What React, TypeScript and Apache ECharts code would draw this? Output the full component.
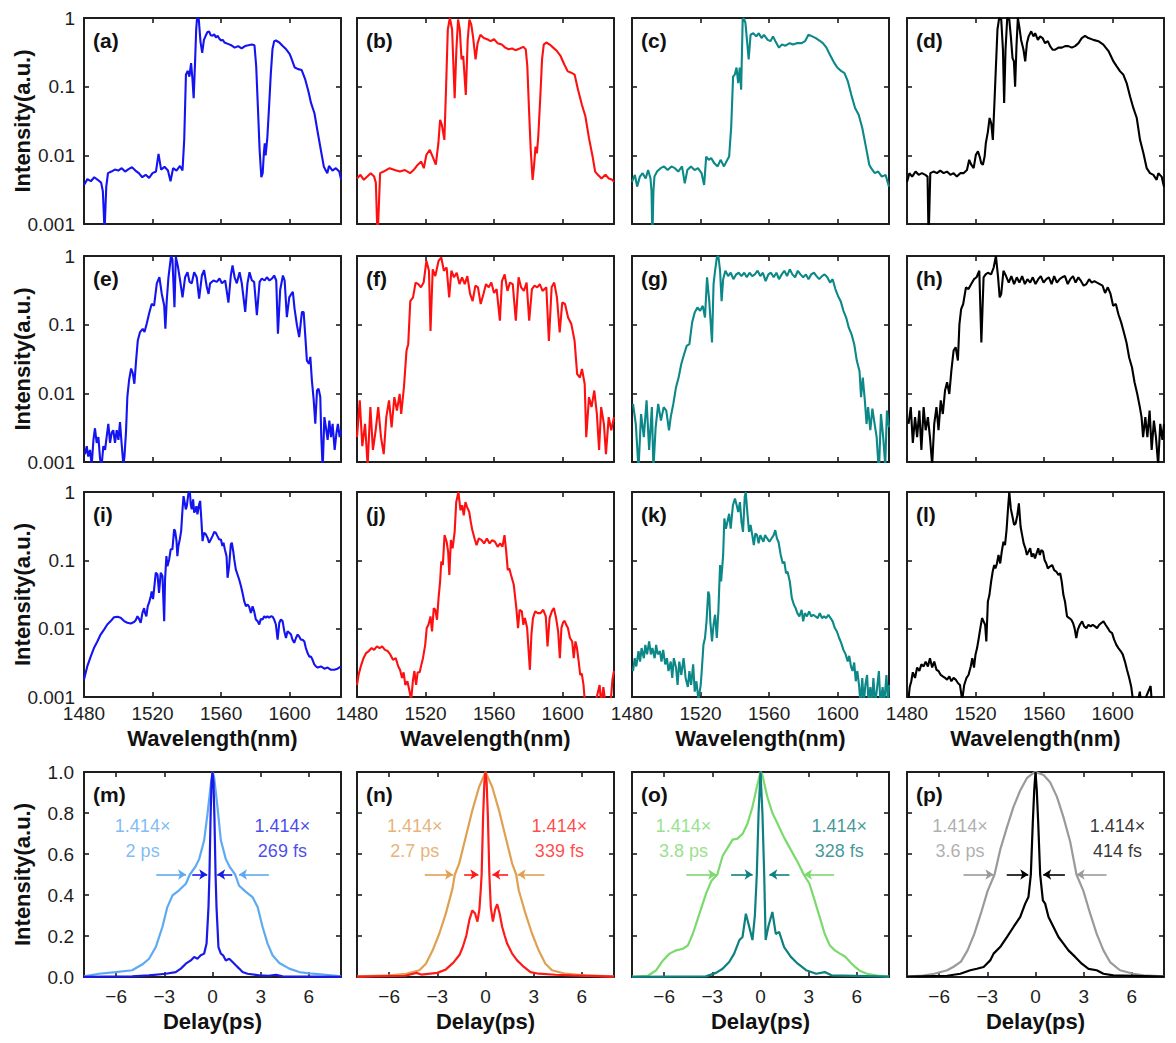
import { useEffect, useRef } from "react";
import * as echarts from "echarts";

type Pt = [number, number];

// ---------- spectra: [wavelength (nm), normalized intensity] ----------
const specA: Pt[] = [[1480,0.0037],[1482,0.0045],[1484,0.0042],[1486,0.0048],[1488,0.0044],[1490,0.0040],[1491,0.0030],[1492,0.0008],[1493,0.0035],[1494,0.0055],[1496,0.0058],[1498,0.0062],[1500,0.0060],[1502,0.0065],[1504,0.0058],[1506,0.0063],[1508,0.0067],[1510,0.0060],[1512,0.0055],[1514,0.0048],[1516,0.0052],[1518,0.0047],[1520,0.0055],[1522,0.0058],[1523.5,0.0105],[1525,0.0062],[1527,0.0068],[1529,0.0060],[1530.5,0.0042],[1532,0.0065],[1534,0.0060],[1536,0.0070],[1537.5,0.0060],[1538.5,0.017],[1539.5,0.15],[1540.5,0.17],[1541.5,0.14],[1542.5,0.22],[1543.3,0.13],[1544,0.068],[1544.8,0.22],[1545.5,0.7],[1546,1.0],[1547,0.95],[1548,0.45],[1549,0.31],[1550,0.48],[1551,0.55],[1552,0.62],[1553,0.64],[1554,0.56],[1555,0.55],[1556,0.58],[1557,0.52],[1558,0.55],[1559,0.50],[1560,0.47],[1561,0.48],[1562,0.44],[1564,0.42],[1566,0.40],[1568,0.37],[1570,0.39],[1572,0.36],[1574,0.39],[1576,0.40],[1578,0.41],[1579.5,0.40],[1580.5,0.2],[1581.5,0.05],[1582.5,0.012],[1583.5,0.0048],[1584.3,0.0055],[1585,0.011],[1585.5,0.015],[1586,0.010],[1587,0.018],[1588,0.05],[1589,0.15],[1590,0.35],[1591,0.46],[1592,0.47],[1594,0.44],[1596,0.39],[1598,0.35],[1600,0.30],[1601,0.26],[1603,0.19],[1605,0.18],[1607,0.175],[1609,0.13],[1611,0.085],[1612.5,0.058],[1614.5,0.041],[1616.5,0.021],[1618.5,0.011],[1620,0.0068],[1622,0.0055],[1623,0.0070],[1625,0.0060],[1627,0.0065],[1629,0.0058],[1630,0.0045]];

const specB: Pt[] = [[1480,0.0046],[1482,0.0052],[1484,0.0044],[1486,0.0049],[1488,0.0055],[1490,0.0049],[1491,0.0040],[1492,0.0006],[1493.5,0.0055],[1495.5,0.0058],[1499,0.0065],[1502,0.0061],[1505,0.0058],[1508,0.0061],[1511,0.0055],[1513,0.0061],[1515.5,0.0073],[1517.5,0.0081],[1519,0.0065],[1520.5,0.0102],[1522.5,0.012],[1524.5,0.0091],[1526,0.0073],[1527.5,0.015],[1528.5,0.033],[1529.5,0.028],[1531,0.0168],[1532,0.10],[1533,0.68],[1534.2,1.0],[1535.5,0.68],[1537,0.068],[1538,0.345],[1539,0.95],[1540,0.68],[1541,0.25],[1542,0.28],[1543.5,0.076],[1544.6,0.48],[1545.6,0.95],[1546.7,0.80],[1547.7,0.54],[1549.2,0.25],[1550.4,0.43],[1552,0.57],[1554,0.51],[1556,0.49],[1558,0.46],[1560,0.49],[1562,0.43],[1564.5,0.41],[1566.5,0.37],[1568.5,0.35],[1570.5,0.36],[1572.5,0.34],[1575,0.36],[1577,0.38],[1578.5,0.35],[1579.4,0.20],[1580.4,0.046],[1581.4,0.012],[1582.5,0.0044],[1583.3,0.0069],[1584.2,0.0134],[1585,0.0107],[1585.8,0.0188],[1587,0.072],[1588,0.25],[1589,0.41],[1590.5,0.44],[1592.5,0.41],[1594.5,0.37],[1596.7,0.33],[1598.8,0.28],[1601,0.21],[1603,0.167],[1605,0.16],[1607,0.15],[1609,0.09],[1611.3,0.054],[1613.3,0.037],[1615.4,0.0178],[1617.5,0.0096],[1619,0.0058],[1620.6,0.0052],[1622.7,0.0046],[1625,0.0052],[1627,0.0046],[1629,0.0044],[1630,0.0041]];

const specC: Pt[] = [[1480,0.0041],[1481.7,0.0052],[1483,0.0035],[1484.6,0.0049],[1486.2,0.0055],[1488,0.0046],[1489.4,0.0061],[1490.8,0.0046],[1491.4,0.0030],[1491.9,0.0006],[1492.5,0.003],[1493.1,0.0049],[1494.6,0.0058],[1496.7,0.0065],[1498.7,0.0069],[1500.8,0.0061],[1503,0.0069],[1505,0.0065],[1507,0.0058],[1509.2,0.0069],[1510.8,0.0039],[1512.3,0.0061],[1514.4,0.0069],[1516.5,0.0061],[1518.5,0.0065],[1520.6,0.0055],[1522.1,0.0037],[1523.3,0.0096],[1524.8,0.0086],[1526.2,0.0091],[1528,0.0077],[1530,0.0069],[1531.7,0.0086],[1533.7,0.0069],[1535.2,0.0082],[1536.7,0.0096],[1537.9,0.026],[1539,0.14],[1540,0.15],[1541,0.19],[1542,0.113],[1542.9,0.19],[1543.7,0.090],[1544.6,0.95],[1545.2,1.0],[1546.2,0.85],[1547.1,0.48],[1548.1,0.25],[1549.2,0.57],[1550.8,0.60],[1552.5,0.54],[1554,0.60],[1555.6,0.51],[1557,0.57],[1559.2,0.48],[1560.8,0.46],[1562.3,0.54],[1563.7,0.46],[1565.8,0.37],[1567.5,0.41],[1569.6,0.395],[1572,0.43],[1574,0.41],[1576.2,0.43],[1579,0.43],[1581,0.46],[1583,0.57],[1585.2,0.54],[1587.3,0.51],[1589.4,0.47],[1591.4,0.43],[1593.5,0.37],[1595.6,0.29],[1597.7,0.23],[1599.8,0.19],[1602,0.17],[1604,0.158],[1606,0.119],[1608,0.076],[1610.2,0.049],[1612.3,0.039],[1614.4,0.025],[1616.5,0.0134],[1618.5,0.0073],[1619.6,0.0065],[1621.7,0.0055],[1623.7,0.0058],[1625.8,0.0049],[1628,0.0052],[1630,0.0035]];

const specD: Pt[] = [[1480,0.0041],[1481.4,0.0055],[1483,0.0049],[1485,0.0058],[1486.8,0.0052],[1488.7,0.0055],[1490.7,0.0052],[1492,0.0049],[1492.6,0.0006],[1493.6,0.0055],[1495.5,0.0058],[1497.5,0.0055],[1499.4,0.0060],[1501.4,0.0055],[1503.3,0.0058],[1505.3,0.0052],[1507.2,0.0055],[1509.1,0.0049],[1511.1,0.0055],[1513,0.0055],[1515,0.0061],[1516.3,0.0086],[1517.5,0.0073],[1518.9,0.0065],[1520.2,0.0102],[1521.4,0.0114],[1522.4,0.0096],[1523.3,0.0077],[1524.3,0.0073],[1525.3,0.0096],[1526,0.015],[1527.2,0.022],[1528.2,0.035],[1529.2,0.029],[1530.1,0.0168],[1531.1,0.064],[1531.9,0.197],[1532.8,0.68],[1533.8,1.0],[1535,0.95],[1536,0.345],[1536.7,0.058],[1537.5,0.345],[1538.5,1.0],[1539.7,0.95],[1540.6,0.54],[1541.6,0.26],[1542.4,0.233],[1543.1,0.10],[1543.9,0.39],[1544.7,1.0],[1545.5,0.76],[1546.6,0.48],[1548,0.345],[1549,0.233],[1550,0.43],[1551,0.54],[1552.5,0.64],[1553.8,0.54],[1554.8,0.60],[1556.4,0.48],[1557.7,0.54],[1559.1,0.51],[1560.6,0.43],[1562.2,0.46],[1563.5,0.39],[1565,0.345],[1566.5,0.345],[1568.4,0.37],[1570.4,0.37],[1572.3,0.39],[1574.2,0.39],[1576.2,0.37],[1578.1,0.39],[1580.1,0.43],[1582,0.51],[1583.9,0.55],[1585.9,0.51],[1588.8,0.48],[1591.7,0.46],[1594.6,0.41],[1597.6,0.33],[1600.5,0.233],[1602.4,0.197],[1604.4,0.167],[1606.3,0.149],[1608.2,0.113],[1610.2,0.072],[1612.1,0.049],[1614.1,0.035],[1616,0.0168],[1618,0.0107],[1619.9,0.0065],[1621.8,0.0055],[1623.8,0.0052],[1625.7,0.0044],[1626.7,0.0055],[1628.6,0.0049],[1630,0.0035]];

const specE: Pt[] = [[1480.6,0.0013],[1481.6,0.0017],[1482.5,0.0012],[1483.5,0.0015],[1484.5,0.0009],[1485.5,0.0021],[1486.4,0.0031],[1487.4,0.0019],[1488.4,0.0023],[1489.4,0.0011],[1490.3,0.0009],[1491.3,0.0017],[1492.3,0.0015],[1493.2,0.0023],[1494.2,0.0036],[1495.2,0.0019],[1496.2,0.0027],[1497.1,0.0029],[1498.1,0.0019],[1499.1,0.0029],[1500.1,0.0021],[1501,0.0038],[1502,0.0018],[1503,0.0009],[1503.6,0.0012],[1504.5,0.0027],[1505.3,0.0089],[1506.3,0.0155],[1507.5,0.023],[1508.4,0.020],[1509.4,0.0138],[1510.4,0.030],[1511.4,0.059],[1512.7,0.078],[1514.3,0.087],[1515.3,0.078],[1516.6,0.103],[1518,0.145],[1519.5,0.20],[1520.9,0.19],[1522.5,0.40],[1524,0.49],[1525.4,0.28],[1526.8,0.19],[1527.5,0.087],[1528.3,0.226],[1529.3,0.49],[1530.8,1.0],[1531.6,0.9],[1532.2,0.40],[1532.8,0.18],[1533.6,0.97],[1534.7,0.73],[1536.1,0.44],[1537.5,0.25],[1539,0.49],[1540.4,0.58],[1541.6,0.42],[1542.9,0.40],[1544.3,0.58],[1545.8,0.49],[1547.2,0.24],[1548.8,0.52],[1550.1,0.62],[1551.7,0.35],[1552.7,0.28],[1553.6,0.40],[1555.6,0.44],[1557.5,0.42],[1559.1,0.47],[1560.5,0.40],[1562.4,0.44],[1564.3,0.21],[1565.7,0.52],[1566.7,0.73],[1567.9,0.49],[1569.2,0.40],[1570.8,0.58],[1572.1,0.40],[1574.1,0.153],[1575.4,0.40],[1576.6,0.58],[1578,0.44],[1579.3,0.42],[1580.9,0.137],[1582.5,0.42],[1583.8,0.47],[1585.4,0.44],[1586.7,0.49],[1588.3,0.44],[1589.7,0.47],[1591,0.52],[1592.2,0.44],[1593.2,0.074],[1594.5,0.32],[1596.1,0.52],[1597.1,0.44],[1598.4,0.129],[1599.8,0.25],[1601,0.28],[1601.9,0.30],[1602.9,0.17],[1604.3,0.098],[1605.6,0.066],[1607.2,0.153],[1608.2,0.153],[1609.2,0.066],[1610.1,0.030],[1611.3,0.027],[1612.1,0.034],[1613,0.0155],[1614,0.0084],[1615,0.0036],[1616,0.011],[1616.9,0.0117],[1617.9,0.0089],[1618.5,0.0023],[1619.3,0.0008],[1620.3,0.0045],[1621.2,0.0032],[1622.2,0.0021],[1623.2,0.0040],[1624.2,0.0023],[1625.1,0.0036],[1626.3,0.0015],[1627.3,0.0026],[1628.2,0.0036],[1629.2,0.0023],[1630,0.0029]];

const specF: Pt[] = [[1480,0.0023],[1481.6,0.0079],[1483.1,0.0017],[1484.7,0.0036],[1486.2,0.0009],[1487.8,0.0063],[1489.3,0.0015],[1490.9,0.0029],[1492.4,0.0063],[1494,0.0023],[1495.6,0.0013],[1497.1,0.0045],[1498.7,0.0079],[1500.2,0.0032],[1501.8,0.0088],[1503.3,0.0056],[1504.9,0.0098],[1505.8,0.0050],[1507.4,0.0123],[1508.9,0.042],[1509.9,0.052],[1511.1,0.22],[1512.7,0.25],[1514.2,0.41],[1515.8,0.39],[1517.3,0.35],[1518.9,0.41],[1520.5,0.85],[1522,0.61],[1522.9,0.081],[1524.2,0.64],[1525.7,0.51],[1527.6,0.85],[1529.2,0.95],[1530.7,0.61],[1532.3,0.68],[1533.8,0.25],[1535.1,0.61],[1536.6,0.49],[1538.2,0.57],[1539.8,0.39],[1541.3,0.49],[1542.9,0.39],[1544.4,0.51],[1546,0.28],[1547.5,0.22],[1549.1,0.37],[1550.6,0.35],[1552.2,0.20],[1553.8,0.28],[1555.3,0.39],[1556.9,0.35],[1558.4,0.41],[1560,0.29],[1561.5,0.33],[1563.4,0.114],[1564.6,0.43],[1566.2,0.54],[1567.8,0.31],[1569.3,0.41],[1570.9,0.39],[1572.7,0.114],[1574.3,0.49],[1575.8,0.35],[1577.4,0.31],[1579,0.41],[1580.5,0.114],[1582.1,0.33],[1583.6,0.37],[1585.2,0.35],[1586.7,0.39],[1588.3,0.31],[1590.5,0.35],[1592,0.058],[1593.6,0.35],[1595.1,0.41],[1596.7,0.25],[1598.3,0.077],[1599.8,0.21],[1601.4,0.20],[1603.2,0.127],[1605.1,0.102],[1607,0.058],[1608.5,0.019],[1610.1,0.017],[1611.3,0.0226],[1612.9,0.0137],[1613.8,0.0023],[1615.4,0.0088],[1616.9,0.0063],[1618.5,0.011],[1620,0.0050],[1621.3,0.0015],[1622.5,0.0063],[1624.1,0.0036],[1625.3,0.0013],[1626.9,0.0045],[1628.4,0.0029],[1630,0.0045]];

const specG: Pt[] = [[1480.6,0.0070],[1482.2,0.0036],[1483.8,0.0008],[1485.3,0.0050],[1486.9,0.0023],[1488.5,0.0079],[1490,0.0015],[1491.6,0.0063],[1492.5,0.0008],[1493.8,0.0032],[1495.3,0.0070],[1496.9,0.0040],[1498.5,0.0063],[1500,0.0056],[1501.6,0.0029],[1502.6,0.0045],[1504.1,0.0070],[1505.7,0.0123],[1507.2,0.017],[1508.8,0.027],[1510.4,0.037],[1511.9,0.049],[1513.5,0.052],[1515.1,0.108],[1516.6,0.15],[1518.2,0.178],[1519.8,0.159],[1521.3,0.188],[1522.6,0.127],[1523.8,0.49],[1525.1,0.22],[1526.7,0.055],[1527.6,0.39],[1528.5,0.61],[1529.5,0.95],[1530.4,1.0],[1531.4,0.61],[1532.3,0.22],[1533.2,0.46],[1534.5,0.61],[1536.1,0.51],[1537.6,0.57],[1539.2,0.46],[1540.8,0.54],[1542.3,0.57],[1543.9,0.51],[1545.5,0.57],[1547,0.49],[1548.6,0.57],[1550.2,0.51],[1551.7,0.54],[1553.3,0.61],[1554.9,0.51],[1556.4,0.57],[1558,0.43],[1559.6,0.54],[1561.1,0.57],[1562.7,0.49],[1564.3,0.57],[1565.8,0.46],[1567.4,0.54],[1568.9,0.61],[1570.5,0.51],[1572.1,0.64],[1573.6,0.54],[1575.2,0.49],[1576.8,0.61],[1578.3,0.54],[1579.9,0.49],[1581.5,0.54],[1583,0.46],[1584.6,0.54],[1586.2,0.57],[1587.7,0.51],[1589.3,0.46],[1590.9,0.51],[1592.4,0.54],[1594,0.49],[1595.6,0.41],[1597.1,0.46],[1598.7,0.33],[1600.3,0.26],[1601.8,0.22],[1603.4,0.159],[1605,0.127],[1606.5,0.091],[1608.1,0.073],[1609.7,0.052],[1611.2,0.030],[1612.8,0.021],[1613.7,0.0088],[1614.7,0.017],[1615.9,0.0079],[1616.9,0.0036],[1617.8,0.0063],[1619.1,0.0029],[1620.3,0.0060],[1621.6,0.0036],[1622.8,0.0023],[1624.1,0.0007],[1625.3,0.0050],[1626.6,0.0023],[1627.8,0.0009],[1628.8,0.0056],[1630,0.0032]];

const specH: Pt[] = [[1480.9,0.0036],[1482.2,0.0063],[1483.4,0.0019],[1484.7,0.0045],[1485.9,0.0023],[1487.2,0.0056],[1488.4,0.0015],[1489.7,0.0063],[1490.9,0.0029],[1492.2,0.0045],[1493.4,0.0023],[1494.7,0.0009],[1495.9,0.0036],[1497.2,0.0063],[1498.4,0.0029],[1499.7,0.0079],[1500.9,0.0050],[1502.2,0.011],[1503.4,0.0145],[1504.7,0.0098],[1505.9,0.0214],[1507.2,0.042],[1508.4,0.047],[1509.7,0.030],[1510.6,0.102],[1511.6,0.168],[1512.8,0.20],[1514.4,0.35],[1515.9,0.33],[1517.5,0.39],[1519.1,0.46],[1520.6,0.49],[1522.2,0.61],[1523.4,0.055],[1524.7,0.49],[1525.9,0.54],[1527.2,0.57],[1529.1,0.54],[1530.6,0.68],[1531.9,1.0],[1533.1,0.51],[1534.1,0.25],[1535,0.28],[1536.3,0.61],[1537.8,0.51],[1539.4,0.41],[1540.9,0.51],[1542.5,0.39],[1544.1,0.49],[1545.6,0.41],[1547.2,0.51],[1548.8,0.39],[1550.3,0.46],[1551.9,0.41],[1553.4,0.49],[1555,0.39],[1556.6,0.46],[1558.1,0.51],[1559.7,0.41],[1561.3,0.46],[1562.8,0.49],[1564.4,0.39],[1565.9,0.51],[1567.5,0.41],[1569.1,0.46],[1570.6,0.49],[1572.2,0.51],[1573.8,0.39],[1575.3,0.46],[1576.9,0.51],[1578.4,0.41],[1580,0.49],[1581.6,0.43],[1583.1,0.37],[1584.7,0.39],[1586.3,0.46],[1587.8,0.41],[1589.4,0.43],[1590.9,0.41],[1592.5,0.39],[1594.1,0.37],[1595.6,0.29],[1597.2,0.35],[1598.8,0.28],[1600.3,0.188],[1601.9,0.20],[1603.4,0.142],[1605,0.108],[1606.6,0.077],[1608.1,0.055],[1609.7,0.033],[1611.3,0.024],[1612.8,0.0145],[1614.4,0.0098],[1615.9,0.0063],[1616.9,0.0045],[1617.8,0.0023],[1619.1,0.0045],[1620.3,0.0023],[1621.6,0.0056],[1622.8,0.0015],[1624.1,0.0040],[1625.3,0.0023],[1626.6,0.0009],[1627.8,0.0036],[1629.1,0.0021],[1630,0.0036]];

const specI: Pt[] = [[1480,0.0018],[1481.9,0.0028],[1483.9,0.0039],[1485.8,0.0052],[1487.8,0.0065],[1489.7,0.0082],[1491.7,0.0097],[1493.6,0.0115],[1495.6,0.0129],[1497.5,0.0147],[1499.5,0.0149],[1501.4,0.0144],[1503.4,0.0129],[1505.3,0.0122],[1507.3,0.0119],[1509.2,0.0125],[1510.2,0.0133],[1511.2,0.0152],[1512.1,0.0139],[1513.1,0.0122],[1514.1,0.017],[1515.1,0.020],[1515.6,0.017],[1516.4,0.0152],[1517.2,0.0213],[1518,0.024],[1519,0.030],[1519.5,0.035],[1520.3,0.027],[1520.9,0.0375],[1521.9,0.066],[1522.9,0.062],[1523.8,0.0335],[1524.8,0.066],[1525.8,0.059],[1526.8,0.0129],[1527.3,0.052],[1528.1,0.115],[1528.7,0.082],[1529.7,0.103],[1530.6,0.145],[1531.6,0.145],[1532.6,0.284],[1533.2,0.268],[1534,0.191],[1534.5,0.115],[1535.1,0.162],[1535.9,0.202],[1536.7,0.268],[1537.5,0.557],[1538.1,0.87],[1538.8,0.70],[1539.4,0.557],[1540,0.62],[1541,0.98],[1541.8,1.0],[1542.3,0.66],[1542.9,0.557],[1543.7,0.78],[1544.3,0.50],[1544.9,0.53],[1545.6,0.62],[1546.2,0.47],[1547.2,0.66],[1547.8,0.74],[1548.6,0.356],[1549.2,0.191],[1550.1,0.254],[1551.1,0.24],[1552.1,0.214],[1553,0.181],[1554,0.202],[1555,0.226],[1556,0.26],[1556.9,0.254],[1557.9,0.226],[1558.9,0.202],[1559.9,0.202],[1560.8,0.162],[1561.4,0.181],[1562.2,0.145],[1563.2,0.115],[1563.8,0.0555],[1564.7,0.082],[1565.7,0.171],[1566.3,0.181],[1567.1,0.136],[1567.7,0.103],[1568.6,0.0736],[1569.6,0.062],[1570.6,0.052],[1571.6,0.042],[1572.5,0.0335],[1573.5,0.0253],[1574.5,0.0213],[1575.5,0.0226],[1576.4,0.0209],[1577.4,0.017],[1578.4,0.0213],[1579.3,0.018],[1580.3,0.0136],[1581.3,0.0129],[1582.3,0.0115],[1583.2,0.0139],[1584.2,0.0136],[1585.2,0.0152],[1586.2,0.0144],[1587.1,0.0152],[1588.1,0.0144],[1589.1,0.0152],[1590.1,0.0149],[1591,0.0136],[1592,0.0115],[1593,0.0069],[1594,0.0122],[1594.9,0.0136],[1595.9,0.0129],[1596.9,0.0092],[1597.9,0.0073],[1598.8,0.0092],[1599.8,0.0087],[1600.8,0.0082],[1601.7,0.0069],[1602.7,0.0062],[1603.7,0.0073],[1604.7,0.0082],[1605.6,0.0077],[1606.6,0.0069],[1607.6,0.0069],[1608.6,0.0065],[1609.5,0.0052],[1610.5,0.0044],[1611.5,0.0039],[1612.5,0.0039],[1613.4,0.0035],[1614.4,0.0030],[1615.4,0.0028],[1616.4,0.0027],[1618.3,0.0028],[1620.3,0.0026],[1622.2,0.0027],[1624.2,0.0025],[1626.1,0.0025],[1628,0.0026],[1630,0.0028]];

const specJ: Pt[] = [[1480,0.0015],[1480.9,0.0021],[1482.2,0.0028],[1483.8,0.0037],[1485.3,0.0044],[1486.9,0.0047],[1488.5,0.0052],[1490,0.0049],[1491.6,0.0055],[1493.2,0.0052],[1494.7,0.0055],[1496.3,0.0049],[1497.9,0.0047],[1499.4,0.0042],[1501,0.0035],[1502.6,0.0037],[1504.1,0.0028],[1505.1,0.0025],[1506.3,0.0019],[1507.2,0.0023],[1508.2,0.0015],[1509.4,0.0017],[1510.7,0.0012],[1511.6,0.0009],[1512.6,0.0017],[1513.5,0.0024],[1514.5,0.0015],[1515.4,0.0023],[1516.6,0.0023],[1517.6,0.0030],[1518.5,0.0037],[1519.8,0.0058],[1520.7,0.0102],[1521.7,0.0114],[1522.9,0.0151],[1523.8,0.0091],[1524.8,0.020],[1525.7,0.0189],[1526.7,0.0135],[1527.6,0.028],[1528.5,0.049],[1529.2,0.096],[1530.1,0.0855],[1531.1,0.234],[1532.3,0.187],[1533.2,0.134],[1533.9,0.061],[1534.8,0.198],[1535.8,0.15],[1537,0.261],[1537.9,0.71],[1539.2,1.0],[1540.4,0.54],[1541.4,0.64],[1542.3,0.457],[1543.3,0.71],[1544.2,0.605],[1545.5,0.51],[1546.4,0.366],[1547.3,0.277],[1548.6,0.209],[1549.8,0.167],[1551.1,0.209],[1552.7,0.198],[1554.2,0.177],[1555.8,0.209],[1557.4,0.177],[1558.9,0.198],[1560.5,0.187],[1562.1,0.158],[1563.6,0.177],[1564.9,0.158],[1566.1,0.234],[1567.1,0.134],[1568,0.072],[1568.9,0.076],[1569.9,0.061],[1571.5,0.044],[1573,0.020],[1574,0.0102],[1574.9,0.0189],[1576.2,0.0179],[1577.1,0.0114],[1578,0.0143],[1579.3,0.0102],[1580.9,0.0025],[1581.8,0.0082],[1582.7,0.0143],[1584,0.0179],[1585.5,0.0169],[1587.1,0.0169],[1588.7,0.0189],[1590.2,0.0151],[1591.2,0.0055],[1592.4,0.0143],[1593.7,0.0179],[1594.9,0.020],[1596.2,0.0143],[1597.4,0.0091],[1598.4,0.0037],[1599.3,0.0102],[1600.3,0.0124],[1601.2,0.0130],[1602.1,0.0114],[1603.1,0.0102],[1604.3,0.0073],[1605.6,0.0065],[1606.5,0.0037],[1607.5,0.0065],[1608.4,0.0052],[1609.4,0.0033],[1610.3,0.0021],[1611.2,0.0022],[1612.2,0.0015],[1613.1,0.0008],[1616,0.0007],[1619,0.0008],[1621.6,0.0015],[1622.5,0.0008],[1623.8,0.0014],[1625,0.0008],[1627.8,0.0007],[1629.1,0.0018],[1630,0.0024]];

const specK: Pt[] = [[1480.6,0.0024],[1481.6,0.0037],[1482.5,0.0028],[1483.8,0.0047],[1484.7,0.0033],[1485.6,0.0052],[1486.9,0.0037],[1487.8,0.0058],[1488.8,0.0042],[1490,0.0065],[1491,0.0042],[1491.9,0.0052],[1493.2,0.0037],[1494.1,0.0058],[1495,0.0042],[1496.3,0.0047],[1497.2,0.0033],[1498.2,0.0049],[1499.4,0.0030],[1500.4,0.0037],[1501.3,0.0024],[1502.6,0.0033],[1503.5,0.0019],[1504.4,0.0037],[1505.7,0.0027],[1506.6,0.0015],[1507.6,0.0033],[1508.8,0.0021],[1510.1,0.0037],[1511.3,0.0019],[1512.6,0.0014],[1513.5,0.0024],[1514.5,0.0015],[1515.7,0.0030],[1516.6,0.0012],[1517.6,0.0017],[1518.8,0.0009],[1520.1,0.0015],[1520.7,0.0024],[1521.7,0.0058],[1522.6,0.0073],[1523.5,0.0128],[1524.5,0.035],[1525.1,0.031],[1525.7,0.0128],[1526.7,0.0065],[1527.6,0.0114],[1528.5,0.016],[1529.5,0.0073],[1530.4,0.0179],[1531.4,0.0855],[1532,0.049],[1532.6,0.076],[1533.2,0.12],[1533.9,0.41],[1534.8,0.29],[1535.7,0.366],[1536.7,0.48],[1537.6,0.29],[1538.9,0.64],[1540.1,0.80],[1541.1,0.64],[1542,0.51],[1543,0.71],[1543.9,0.366],[1544.8,0.261],[1545.8,0.85],[1546.4,1.0],[1547.3,0.51],[1548.3,0.261],[1549.2,0.33],[1550.2,0.234],[1551.1,0.167],[1552,0.247],[1553,0.234],[1553.9,0.177],[1554.9,0.234],[1555.8,0.209],[1556.7,0.187],[1557.7,0.234],[1558.9,0.209],[1560.2,0.187],[1561.4,0.209],[1562.7,0.234],[1563.6,0.277],[1564.6,0.209],[1565.5,0.187],[1566.8,0.12],[1568,0.090],[1568.9,0.096],[1569.9,0.065],[1570.8,0.068],[1572.1,0.049],[1573.3,0.028],[1574.6,0.022],[1575.5,0.020],[1576.5,0.0169],[1577.7,0.0151],[1579,0.0189],[1579.9,0.0128],[1580.9,0.0169],[1582.1,0.0151],[1583.4,0.0179],[1584.6,0.0151],[1585.9,0.016],[1587.1,0.0151],[1588.4,0.0143],[1589.6,0.0169],[1590.9,0.0143],[1592.1,0.0151],[1593.4,0.0143],[1594.6,0.016],[1595.9,0.0143],[1597.1,0.0128],[1598.4,0.0102],[1599.6,0.0091],[1600.9,0.0073],[1602.1,0.0062],[1603.4,0.0049],[1604.7,0.0042],[1605.9,0.0033],[1606.8,0.0040],[1607.8,0.0028],[1608.7,0.0024],[1609.7,0.0032],[1610.6,0.0017],[1611.5,0.0024],[1612.5,0.0015],[1613.4,0.0008],[1614.4,0.0019],[1615.3,0.0008],[1616.2,0.0015],[1617.2,0.0021],[1618.1,0.0008],[1619.1,0.0014],[1620,0.0008],[1620.9,0.0019],[1621.9,0.0008],[1622.8,0.0012],[1624.1,0.0024],[1625,0.0008],[1626.3,0.0014],[1627.2,0.0008],[1628.5,0.0021],[1629.4,0.0008],[1630,0.0015]];

const specL: Pt[] = [[1480.6,0.0008],[1481.6,0.0014],[1482.5,0.0017],[1483.4,0.0023],[1484.7,0.0019],[1485.9,0.0027],[1487.2,0.0024],[1488.4,0.0030],[1489.7,0.0028],[1490.9,0.0033],[1492.2,0.0028],[1493.4,0.0037],[1494.7,0.0027],[1495.9,0.0033],[1497.2,0.0025],[1498.4,0.0024],[1499.7,0.0021],[1500.9,0.0020],[1502.2,0.0019],[1503.4,0.0018],[1504.7,0.0020],[1505.9,0.0017],[1507.2,0.0019],[1508.4,0.0018],[1509.7,0.0016],[1510.9,0.0015],[1512.2,0.0009],[1513.4,0.0015],[1514.7,0.0019],[1515.9,0.0021],[1517.2,0.0028],[1518.1,0.0037],[1519.1,0.0027],[1520,0.0042],[1520.9,0.0052],[1521.9,0.0073],[1522.8,0.0102],[1523.8,0.0143],[1524.7,0.0128],[1525.6,0.0114],[1526.3,0.0065],[1527.2,0.025],[1528.1,0.031],[1529.1,0.049],[1530,0.068],[1530.9,0.0855],[1531.6,0.076],[1532.5,0.090],[1533.4,0.12],[1534.4,0.090],[1535.3,0.134],[1536.3,0.187],[1537.2,0.167],[1538.1,0.277],[1539.1,0.64],[1539.7,1.0],[1540.6,0.57],[1541.6,0.43],[1542.5,0.33],[1543.4,0.346],[1544.4,0.457],[1545.3,0.68],[1546.3,0.31],[1547.2,0.234],[1548.1,0.177],[1549.1,0.15],[1550,0.12],[1550.9,0.134],[1551.9,0.15],[1552.8,0.113],[1553.8,0.126],[1554.7,0.107],[1555.6,0.126],[1556.6,0.15],[1557.5,0.12],[1558.4,0.141],[1559.4,0.134],[1560.3,0.101],[1561.3,0.090],[1562.2,0.076],[1563.4,0.081],[1564.7,0.0855],[1565.9,0.072],[1567.2,0.068],[1568.4,0.061],[1569.4,0.065],[1570.3,0.049],[1571.3,0.031],[1572.2,0.025],[1573.4,0.0151],[1574.7,0.0143],[1575.9,0.0135],[1576.9,0.0121],[1577.8,0.0102],[1578.8,0.0073],[1579.7,0.0097],[1580.9,0.0114],[1582.2,0.0128],[1583.4,0.0108],[1584.7,0.0102],[1585.9,0.0114],[1587.2,0.0108],[1588.4,0.0114],[1589.7,0.0108],[1590.9,0.0102],[1592.2,0.0114],[1593.4,0.0121],[1594.7,0.0128],[1595.9,0.0114],[1597.2,0.0102],[1598.4,0.0091],[1599.7,0.0086],[1600.9,0.0069],[1602.2,0.0058],[1603.4,0.0052],[1604.7,0.0047],[1605.9,0.0042],[1607.2,0.0033],[1608.4,0.0025],[1609.7,0.0019],[1610.9,0.0014],[1611.9,0.0009],[1614,0.0007],[1615.9,0.0012],[1616.9,0.0007],[1622.2,0.00145],[1623.1,0.0007],[1630,0.0007]];

// ---------- autocorrelation traces: [delay (ps), normalized intensity] ----------
const acfBroadM: Pt[] = [[-8,0.003],[-7.06,0.016],[-6.03,0.024],[-5,0.033],[-4.36,0.062],[-3.95,0.089],[-3.53,0.146],[-3.12,0.244],[-2.81,0.341],[-2.49,0.398],[-2.08,0.423],[-1.66,0.455],[-1.41,0.5],[-1.05,0.54],[-0.83,0.575],[-0.52,0.667],[-0.31,0.797],[-0.1,0.943],[0,1],[0.1,0.976],[0.31,0.829],[0.52,0.667],[0.83,0.575],[1.05,0.54],[1.41,0.5],[1.66,0.445],[2.08,0.415],[2.49,0.39],[2.81,0.341],[3.12,0.244],[3.43,0.163],[3.74,0.106],[4.16,0.068],[4.78,0.041],[5.4,0.024],[6.23,0.016],[7.06,0.011],[8,0.003]];
const acfNarrowM: Pt[] = [[-8,0.001],[-5,0.003],[-3.95,0.008],[-2.91,0.016],[-2.29,0.024],[-1.97,0.041],[-1.66,0.065],[-1.35,0.081],[-1.14,0.098],[-0.94,0.089],[-0.73,0.106],[-0.52,0.114],[-0.37,0.163],[-0.25,0.341],[-0.19,0.5],[-0.12,0.78],[-0.06,0.95],[0,1],[0.06,0.95],[0.12,0.78],[0.19,0.5],[0.25,0.341],[0.37,0.146],[0.52,0.114],[0.66,0.106],[0.83,0.081],[1.04,0.089],[1.25,0.073],[1.45,0.057],[1.66,0.041],[1.87,0.024],[2.18,0.016],[2.91,0.008],[3.5,0.006],[3.95,0.011],[4.36,0.003],[8,0.001]];
const acfBroadN: Pt[] = [[-8,0.003],[-5.98,0.008],[-4.94,0.016],[-4.12,0.033],[-3.71,0.065],[-3.29,0.13],[-2.88,0.211],[-2.47,0.309],[-2.06,0.43],[-1.91,0.5],[-1.64,0.553],[-1.23,0.683],[-0.82,0.813],[-0.4,0.927],[0,1],[0.42,0.927],[0.84,0.813],[1.25,0.683],[1.66,0.553],[1.91,0.5],[2.07,0.423],[2.49,0.309],[2.9,0.211],[3.31,0.13],[3.73,0.065],[4.14,0.033],[4.97,0.016],[6.2,0.008],[8,0.003]];
const acfNarrowN: Pt[] = [[-8,0.002],[-5,0.006],[-4.3,0.02],[-4,0.012],[-3,0.02],[-2.5,0.035],[-2,0.07],[-1.6,0.11],[-1.4,0.15],[-1.2,0.2],[-1.0,0.28],[-0.82,0.325],[-0.65,0.31],[-0.5,0.27],[-0.38,0.33],[-0.3,0.42],[-0.24,0.5],[-0.15,0.78],[-0.07,0.95],[0,1],[0.07,0.95],[0.15,0.78],[0.24,0.5],[0.33,0.34],[0.46,0.27],[0.6,0.33],[0.73,0.355],[0.88,0.31],[1.04,0.244],[1.2,0.2],[1.35,0.163],[1.66,0.114],[1.97,0.081],[2.39,0.049],[2.8,0.024],[3.31,0.016],[4.35,0.011],[5.38,0.008],[8,0.002]];
const acfBroadO: Pt[] = [[-8,0.002],[-7,0.006],[-6.49,0.033],[-6.07,0.081],[-5.66,0.114],[-5.25,0.13],[-4.83,0.138],[-4.52,0.154],[-4.21,0.211],[-3.8,0.309],[-3.39,0.407],[-3.05,0.47],[-2.69,0.5],[-2.36,0.59],[-2.05,0.63],[-1.74,0.67],[-1.43,0.675],[-1.1,0.7],[-0.8,0.75],[-0.5,0.83],[-0.25,0.92],[0,1],[0.1,0.99],[0.42,0.88],[0.74,0.8],[1.05,0.75],[1.47,0.68],[1.89,0.62],[2.32,0.56],[2.69,0.5],[3.05,0.455],[3.37,0.374],[3.68,0.293],[4,0.21],[4.32,0.154],[4.63,0.13],[4.95,0.114],[5.26,0.1],[5.58,0.073],[5.89,0.049],[6.21,0.029],[6.63,0.016],[7.26,0.007],[8,0.002]];
const acfNarrowO: Pt[] = [[-8,0.001],[-3.39,0.003],[-2.77,0.02],[-2.36,0.04],[-1.95,0.073],[-1.64,0.114],[-1.32,0.179],[-1.12,0.195],[-0.91,0.309],[-0.75,0.26],[-0.5,0.18],[-0.35,0.3],[-0.23,0.5],[-0.12,0.8],[0,1],[0.12,0.8],[0.23,0.5],[0.32,0.18],[0.5,0.25],[0.74,0.317],[0.95,0.21],[1.16,0.22],[1.47,0.146],[1.89,0.098],[2.32,0.065],[2.84,0.033],[3.47,0.016],[4,0.024],[4.42,0.008],[8,0.002]];
const acfBroadP: Pt[] = [[-8,0.002],[-7,0.007],[-6.3,0.016],[-5.5,0.033],[-5.1,0.05],[-4.64,0.075],[-4.23,0.13],[-3.81,0.21],[-3.4,0.31],[-2.98,0.42],[-2.55,0.5],[-2.2,0.62],[-1.78,0.73],[-1.37,0.83],[-0.95,0.91],[-0.54,0.97],[-0.23,0.99],[0,1],[0.5,0.985],[0.91,0.95],[1.33,0.88],[1.74,0.78],[2.16,0.66],[2.55,0.5],[2.98,0.42],[3.4,0.31],[3.81,0.21],[4.23,0.13],[4.64,0.073],[5.26,0.033],[6.09,0.016],[6.72,0.008],[8,0.003]];
const acfNarrowP: Pt[] = [[-8,0.002],[-5.5,0.006],[-4.68,0.016],[-4.06,0.033],[-3.65,0.04],[-3.23,0.049],[-2.82,0.081],[-2.61,0.114],[-2.2,0.146],[-1.78,0.195],[-1.37,0.244],[-0.95,0.293],[-0.64,0.358],[-0.44,0.39],[-0.29,0.5],[-0.17,0.75],[-0.08,0.91],[0,1],[0.08,0.91],[0.17,0.75],[0.29,0.5],[0.46,0.374],[0.6,0.358],[0.81,0.293],[1.12,0.244],[1.43,0.195],[1.74,0.163],[2.05,0.13],[2.47,0.098],[2.88,0.065],[3.3,0.04],[3.81,0.033],[4.23,0.016],[4.85,0.008],[8,0.002]];

// ---------- axes ----------
const wavelengthMin = 1480;
const wavelengthMax = 1630;
const wavelengthStep = 40;
const intensityMin = 0.001;
const intensityMax = 1;
const delayMin = -8;
const delayMax = 8;
const delayTicks = [-6, -3, 0, 3, 6];
const acfStep = 0.2;

// ---------- panel contents ----------
const panelLetters = ["a", "b", "c", "d", "e", "f", "g", "h", "i", "j", "k", "l", "m", "n", "o", "p"];
const spectraRows: Pt[][][] = [
  [specA, specB, specC, specD],
  [specE, specF, specG, specH],
  [specI, specJ, specK, specL],
];
const acfBroad = [acfBroadM, acfBroadN, acfBroadO, acfBroadP];
const acfNarrow = [acfNarrowM, acfNarrowN, acfNarrowO, acfNarrowP];

const factorText = "1.414×";
const broadWidthText = ["2 ps", "2.7 ps", "3.8 ps", "3.6 ps"];
const narrowWidthText = ["269 fs", "339 fs", "328 fs", "414 fs"];

// annotation anchors in (delay, intensity) units
const textLeftX = [-4.35, -4.4, -4.8, -4.7];
const textRightX = [4.35, 4.6, 4.9, 5.1];
const textLinesY = [0.735, 0.615];
const arrowLevel = 0.5;
const broadArrowsLeft = [[-3.5, -1.65], [-3.78, -2.02], [-4.62, -2.76], [-4.48, -2.62]];
const broadArrowsRight = [[3.51, 1.65], [3.67, 2.0], [4.58, 2.71], [4.42, 2.56]];
const narrowArrowsLeft = [[-1.26, -0.33], [-1.33, -0.45], [-1.83, -0.49], [-1.79, -0.45]];
const narrowArrowsRight = [[1.23, 0.29], [1.41, 0.43], [1.8, 0.55], [1.83, 0.48]];

// ---------- styling / layout ----------
const FONT = '"Liberation Sans", Arial, Helvetica, sans-serif';
const INK = "#1e1e1e";
const spectrumColors = ["#1414f0", "#ff1010", "#0c8888", "#000000"];
const broadColors = ["#5eaaf2", "#e0a052", "#7cd96e", "#9a9a9a"];
const narrowColors = ["#1a1ae6", "#ff1a1a", "#0e8080", "#000000"];

const colLeft = [84, 357, 632, 907];
const rowTop = [18, 256, 492, 772];
const rowHeight = [206, 206, 205, 205];
const panelWidth = 257;

const logLabel = (v: number) => {
  const e = Math.round(Math.log10(v));
  return e >= 0 ? String(Math.pow(10, e)) : Math.pow(10, e).toFixed(-e);
};
const delayLabel = (v: number) => (v < 0 ? "\u2212" + Math.abs(v) : String(v));
const plainLabel = (v: number) => String(Math.round(v));

function buildOption() {
  const grid: any[] = [];
  const xAxis: any[] = [];
  const yAxis: any[] = [];
  const series: any[] = [];
  const graphic: any[] = [];

  const frame = { show: true, onZero: false, lineStyle: { color: INK, width: 2 } };
  const tick = (customValues?: number[]) => ({
    show: true,
    inside: true,
    length: 5,
    lineStyle: { color: INK, width: 1.6 },
    ...(customValues ? { customValues } : {}),
  });
  const labelFont = { fontFamily: FONT, fontSize: 19, color: INK };

  for (let r = 0; r < 4; r++) {
    for (let c = 0; c < 4; c++) {
      const g = r * 4 + c;
      grid.push({ left: colLeft[c], top: rowTop[r], width: panelWidth, height: rowHeight[r] });

      if (r < 3) {
        const xBase = {
          type: "value", gridIndex: g, min: wavelengthMin, max: wavelengthMax, interval: wavelengthStep,
          splitLine: { show: false }, axisLine: frame, axisTick: tick(),
        };
        xAxis.push({ ...xBase, position: "bottom", axisLabel: { show: r === 2, margin: 7, showMaxLabel: false, formatter: plainLabel, ...labelFont } });
        xAxis.push({ ...xBase, position: "top", axisLabel: { show: false } });
        const yBase = {
          type: "log", logBase: 10, gridIndex: g, min: intensityMin, max: intensityMax,
          splitLine: { show: false }, minorTick: { show: false }, axisLine: frame, axisTick: tick(),
        };
        yAxis.push({ ...yBase, position: "left", axisLabel: { show: c === 0, margin: 9, formatter: logLabel, ...labelFont } });
        yAxis.push({ ...yBase, position: "right", axisLabel: { show: false } });

        series.push({
          type: "line", xAxisIndex: 2 * g, yAxisIndex: 2 * g, data: spectraRows[r][c],
          symbol: "none", silent: true, clip: true,
          lineStyle: { color: spectrumColors[c], width: 2.1 }, itemStyle: { color: spectrumColors[c] },
        });
      } else {
        const xBase = {
          type: "value", gridIndex: g, min: delayMin, max: delayMax,
          splitLine: { show: false }, axisLine: frame, axisTick: tick(delayTicks),
        };
        xAxis.push({ ...xBase, position: "bottom", axisLabel: { show: true, customValues: delayTicks, formatter: delayLabel, margin: 10, ...labelFont } });
        xAxis.push({ ...xBase, position: "top", axisLabel: { show: false } });
        const yBase = {
          type: "value", gridIndex: g, min: 0, max: 1, interval: acfStep,
          splitLine: { show: false }, axisLine: frame, axisTick: tick(),
        };
        yAxis.push({ ...yBase, position: "left", axisLabel: { show: c === 0, margin: 10, formatter: (v: number) => v.toFixed(1), ...labelFont } });
        yAxis.push({ ...yBase, position: "right", axisLabel: { show: false } });

        const arrows = (spans: number[][], color: string) => ({
          silent: true, symbol: ["none", "arrow"], symbolSize: 8, precision: 3,
          label: { show: false }, emphasis: { disabled: true },
          lineStyle: { color, width: 1.6, type: "solid" },
          data: spans.map(([a, b]) => [{ coord: [a, arrowLevel] }, { coord: [b, arrowLevel] }]),
        });

        series.push({
          type: "line", xAxisIndex: 2 * g, yAxisIndex: 2 * g, data: acfBroad[c],
          symbol: "none", silent: true, z: 2,
          lineStyle: { color: broadColors[c], width: 2.2 }, itemStyle: { color: broadColors[c] },
          markLine: arrows([broadArrowsLeft[c], broadArrowsRight[c]], broadColors[c]),
        });
        series.push({
          type: "line", xAxisIndex: 2 * g, yAxisIndex: 2 * g, data: acfNarrow[c],
          symbol: "none", silent: true, z: 3,
          lineStyle: { color: narrowColors[c], width: 2.2 }, itemStyle: { color: narrowColors[c] },
          markLine: arrows([narrowArrowsLeft[c], narrowArrowsRight[c]], narrowColors[c]),
        });

        const textSeries = (x: number, lines: string[], color: string) => ({
          type: "scatter", xAxisIndex: 2 * g, yAxisIndex: 2 * g, silent: true, z: 4,
          symbol: "circle", symbolSize: 1, itemStyle: { color: "rgba(0,0,0,0)" },
          label: { show: true, position: "inside", color, fontSize: 18, fontFamily: FONT },
          data: lines.map((t, i) => ({ value: [x, textLinesY[i]], label: { formatter: t } })),
        });
        series.push(textSeries(textLeftX[c], [factorText, broadWidthText[c]], broadColors[c]));
        series.push(textSeries(textRightX[c], [factorText, narrowWidthText[c]], narrowColors[c]));
      }

      graphic.push({
        type: "text", x: colLeft[c] + 9, y: rowTop[r] + 22, silent: true,
        style: {
          text: `(${panelLetters[g]})`, fill: "#111", font: `bold 21px ${FONT}`,
          align: "left", verticalAlign: "middle", textAlign: "left", textVerticalAlign: "middle",
        },
      });
    }

    graphic.push({
      type: "text", x: 22, y: rowTop[r] + rowHeight[r] / 2, rotation: Math.PI / 2, silent: true,
      style: {
        text: "Intensity(a.u.)", fill: "#111", font: `bold 22px ${FONT}`,
        align: "center", verticalAlign: "middle", textAlign: "center", textVerticalAlign: "middle",
      },
    });
  }

  for (let c = 0; c < 4; c++) {
    const cx = colLeft[c] + panelWidth / 2;
    graphic.push({
      type: "text", x: cx, y: 738, silent: true,
      style: {
        text: "Wavelength(nm)", fill: "#111", font: `bold 22px ${FONT}`,
        align: "center", verticalAlign: "middle", textAlign: "center", textVerticalAlign: "middle",
      },
    });
    graphic.push({
      type: "text", x: cx, y: 1021, silent: true,
      style: {
        text: "Delay(ps)", fill: "#111", font: `bold 22px ${FONT}`,
        align: "center", verticalAlign: "middle", textAlign: "center", textVerticalAlign: "middle",
      },
    });
  }

  return {
    animation: false,
    backgroundColor: "#ffffff",
    textStyle: { fontFamily: FONT },
    grid, xAxis, yAxis, series, graphic,
  };
}

export default function App() {
  const ref = useRef<HTMLDivElement>(null);
  useEffect(() => {
    if (!ref.current) return;
    const chart = echarts.init(ref.current, null, { renderer: "svg" });
    chart.setOption(buildOption() as any);
    return () => chart.dispose();
  }, []);
  return (
    <div
      ref={ref}
      style={{ position: "absolute", left: 0, top: 0, width: 1176, height: 1043, background: "#fff" }}
    />
  );
}
